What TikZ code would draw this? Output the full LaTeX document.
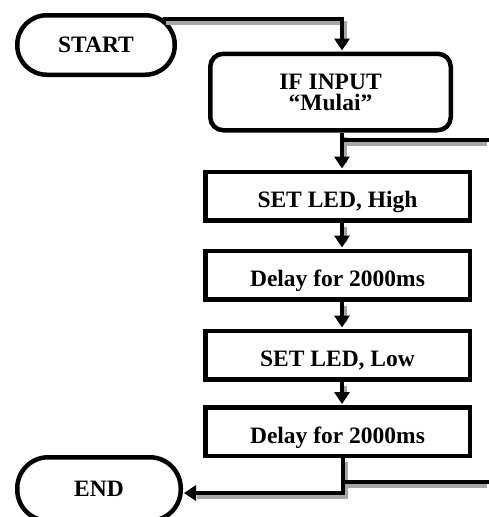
\documentclass[tikz,border=0pt]{standalone}
\usepackage{fontspec}
\setmainfont{Liberation Serif}
\usetikzlibrary{arrows.meta,calc}

\newcommand{\flowfont}{\fontsize{23.5}{21}\selectfont\bfseries}

\tikzset{
  procbox/.style={draw, line width=4.5pt, inner sep=0pt,
    minimum width=264.5pt, minimum height=48.5pt, font=\flowfont,
    text height=23pt, text depth=0pt},
  termbox/.style={draw, line width=4.5pt, inner sep=0pt, font=\flowfont},
  flow/.style={line width=4.2pt, -{Triangle[width=15pt,length=12pt]}, shorten >=1pt},
  link/.style={line width=4.2pt},
  shade/.style={draw=black!35, -, shorten >=11pt, transform canvas={xshift=3pt,yshift=-4pt}}
}

\begin{document}
\begin{tikzpicture}[x=1pt,y=-1pt]
  \useasboundingbox (0,0) rectangle (489,517);
  \clip (0,0) rectangle (489,517);

  % column of the main flow line and its branch points
  \coordinate (col) at (342,0);
  \coordinate (s0) at (163,19);
  \coordinate (b1) at (342,140);
  \coordinate (r1) at (495,140);
  \coordinate (b2) at (343,482);
  \coordinate (r2) at (495,482);
  \coordinate (j2) at (343,493);

  % shapes (positions only; styles above)
  \path
    node[termbox, rounded corners=29.5pt, minimum width=157.5pt, minimum height=59.5pt]
      (start) at (96,45) {START}
    node[termbox, rounded corners=13pt, minimum width=240.5pt, minimum height=76.5pt,
         align=center]
      (ifin) at (330.5,92) {IF INPUT\\``Mulai''}
    node[procbox] (hi)  at (337.5,196)   {SET LED, High}
    node[procbox] (d1)  at (337.5,275)   {Delay for 2000ms}
    node[procbox] (lo)  at (337.5,355)   {SET LED, Low}
    node[procbox] (d2)  at (337.5,431.5) {Delay for 2000ms}
    node[termbox, rounded corners=31pt, minimum width=163.5pt, minimum height=63.5pt]
      (end) at (99,489) {END};

  % connectors: grey drop shadow first, then the black line
  \foreach \layer in {shade,}{
    \draw[flow,\layer] (s0) -| (col |- ifin.north);
    \draw[flow,\layer] (col |- ifin.south) -- (col |- hi.north);
    \draw[link,\layer] (b1) -- (r1);
    \draw[flow,\layer] (col |- hi.south) -- (col |- d1.north);
    \draw[flow,\layer] (col |- d1.south) -- (col |- lo.north);
    \draw[flow,\layer] (col |- lo.south) -- (col |- d2.north);
    \draw[link,\layer] (b2) -- (r2);
    \draw[flow,\layer] (j2 |- d2.south) |- (end.east |- j2);
  }
\end{tikzpicture}
\end{document}
